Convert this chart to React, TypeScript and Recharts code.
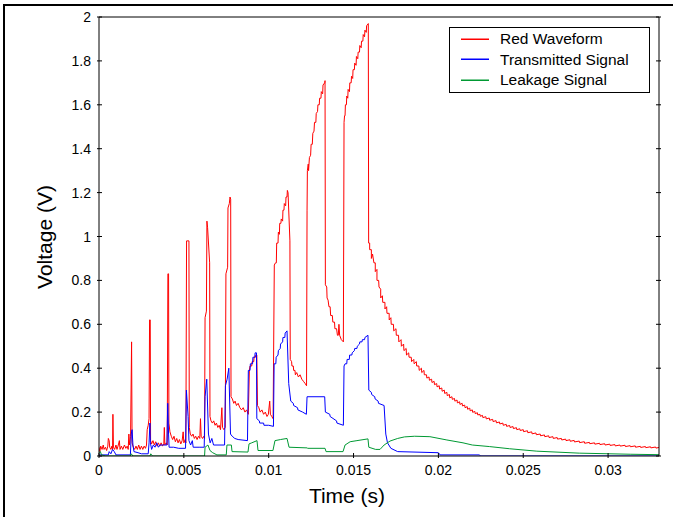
import { Label, Legend, Line, LineChart, XAxis, YAxis } from 'recharts'

const RED = '#ff0000'
const BLUE = '#0000ff'
const GREEN = '#009933'
const FONT = "'Liberation Sans', Arial, sans-serif"

// axis ticks (seconds / volts)
const xTicks = [0, 0.005, 0.01, 0.015, 0.02, 0.025, 0.03]
const yTicks = [0, 0.2, 0.4, 0.6, 0.8, 1, 1.2, 1.4, 1.6, 1.8, 2]

const seriesNames = ['Red Waveform', 'Transmitted Signal', 'Leakage Signal']
const seriesColors = [RED, BLUE, GREEN]

// [time in ms, voltage in V]
const redWaveform: [number, number][] = [
  [0, 0.04], [0.05, 0.02], [0.1, 0.045], [0.18, 0.03], [0.25, 0.05], [0.3, 0.03], [0.38, 0.04],
  [0.45, 0.025], [0.52, 0.045], [0.55, 0.08], [0.6, 0.07], [0.63, 0.04], [0.7, 0.03], [0.76, 0.045],
  [0.8, 0.03], [0.82, 0.19], [0.85, 0.04], [0.92, 0.03], [1.0, 0.05], [1.06, 0.03], [1.12, 0.045],
  [1.2, 0.07], [1.24, 0.03], [1.32, 0.045], [1.4, 0.03], [1.5, 0.05], [1.58, 0.035], [1.66, 0.045],
  [1.72, 0.03], [1.76, 0.1], [1.8, 0.05], [1.86, 0.09], [1.92, 0.52], [1.95, 0.06], [2.02, 0.04],
  [2.1, 0.03], [2.18, 0.045], [2.26, 0.03], [2.34, 0.05], [2.42, 0.03], [2.5, 0.045], [2.58, 0.03],
  [2.66, 0.045], [2.74, 0.035], [2.8, 0.05], [2.84, 0.12], [2.9, 0.14], [2.95, 0.17], [2.98, 0.62],
  [3.02, 0.62], [3.04, 0.07], [3.1, 0.055], [3.18, 0.07], [3.26, 0.05], [3.34, 0.065], [3.42, 0.045],
  [3.5, 0.06], [3.58, 0.045], [3.66, 0.06], [3.74, 0.045], [3.82, 0.055], [3.85, 0.13], [3.88, 0.05],
  [3.96, 0.06], [4.02, 0.05], [4.06, 0.83], [4.1, 0.83], [4.12, 0.15], [4.18, 0.11], [4.26, 0.09],
  [4.34, 0.075], [4.42, 0.09], [4.5, 0.065], [4.58, 0.08], [4.66, 0.06], [4.74, 0.075], [4.82, 0.055],
  [4.9, 0.07], [4.96, 0.11], [5.0, 0.06], [5.08, 0.075], [5.12, 0.06], [5.16, 0.98], [5.3, 0.98],
  [5.32, 0.13], [5.38, 0.1], [5.46, 0.09], [5.54, 0.1], [5.62, 0.08], [5.7, 0.09], [5.78, 0.075],
  [5.86, 0.09], [5.94, 0.08], [5.98, 0.17], [6.02, 0.09], [6.1, 0.08], [6.18, 0.09], [6.22, 0.08],
  [6.25, 0.63], [6.33, 0.66], [6.36, 1.07], [6.4, 1.04], [6.52, 0.88], [6.54, 0.18], [6.6, 0.16],
  [6.68, 0.15], [6.76, 0.16], [6.84, 0.14], [6.92, 0.15], [7.0, 0.13], [7.08, 0.14], [7.16, 0.12],
  [7.24, 0.22], [7.28, 0.13], [7.36, 0.12], [7.44, 0.13], [7.48, 0.83], [7.58, 0.86], [7.6, 1.13],
  [7.68, 1.15], [7.72, 1.18], [7.76, 1.17], [7.78, 0.27], [7.86, 0.26], [7.94, 0.24], [8.02, 0.25],
  [8.1, 0.23], [8.2, 0.24], [8.3, 0.22], [8.4, 0.21], [8.5, 0.22], [8.6, 0.2], [8.7, 0.21], [8.8, 0.19],
  [8.86, 0.39], [8.9, 0.41], [9.0, 0.41], [9.02, 0.43], [9.12, 0.43], [9.14, 0.45], [9.22, 0.45],
  [9.24, 0.46], [9.3, 0.46], [9.34, 0.23], [9.42, 0.22], [9.5, 0.2], [9.6, 0.21], [9.7, 0.19],
  [9.8, 0.2], [9.9, 0.18], [9.98, 0.19], [10.06, 0.25], [10.1, 0.19], [10.18, 0.18], [10.26, 0.17],
  [10.33, 0.87], [10.4, 0.88], [10.45, 0.88], [10.47, 0.97], [10.55, 0.97], [10.57, 1.02], [10.63, 1.01],
  [10.65, 1.06], [10.72, 1.06], [10.74, 1.08], [10.82, 1.07], [10.84, 1.12], [10.9, 1.12], [10.92, 1.15],
  [11.0, 1.14], [11.02, 1.18], [11.08, 1.18], [11.1, 1.21], [11.14, 1.2], [11.25, 0.98], [11.27, 0.44],
  [11.35, 0.43], [11.37, 0.41], [11.45, 0.41], [11.47, 0.39], [11.55, 0.39], [11.57, 0.37], [11.65, 0.38],
  [11.75, 0.36], [11.85, 0.37], [11.95, 0.35], [12.05, 0.34], [12.15, 0.33], [12.23, 0.32],
  [12.26, 1.12], [12.28, 1.3], [12.33, 1.33], [12.35, 1.3], [12.4, 1.36], [12.47, 1.37], [12.5, 1.42],
  [12.57, 1.42], [12.6, 1.47], [12.67, 1.48], [12.7, 1.52], [12.78, 1.52], [12.8, 1.56], [12.88, 1.57],
  [12.9, 1.6], [12.98, 1.6], [13.0, 1.63], [13.08, 1.63], [13.1, 1.66], [13.18, 1.65], [13.2, 1.69],
  [13.3, 1.7], [13.32, 1.71], [13.34, 0.78], [13.42, 0.77], [13.44, 0.72], [13.5, 0.71], [13.55, 0.68],
  [13.62, 0.68], [13.65, 0.64], [13.75, 0.64], [13.78, 0.61], [13.88, 0.61], [13.9, 0.58], [14.0, 0.58],
  [14.05, 0.55], [14.1, 0.55], [14.14, 0.6], [14.18, 0.55], [14.28, 0.53], [14.4, 0.52], [14.44, 1.52],
  [14.47, 1.55], [14.5, 1.55], [14.52, 1.6], [14.58, 1.6], [14.6, 1.64], [14.66, 1.63], [14.68, 1.67],
  [14.76, 1.66], [14.78, 1.7], [14.86, 1.7], [14.88, 1.73], [14.95, 1.72], [14.97, 1.76], [15.05, 1.76],
  [15.07, 1.79], [15.15, 1.78], [15.17, 1.82], [15.25, 1.81], [15.27, 1.84], [15.35, 1.84], [15.37, 1.87],
  [15.45, 1.86], [15.47, 1.89], [15.55, 1.89], [15.57, 1.92], [15.65, 1.91], [15.67, 1.94], [15.75, 1.93],
  [15.77, 1.96], [15.87, 1.97], [15.89, 0.97], [15.95, 0.97], [15.95, 0.94], [16.05, 0.94], [16.05, 0.9],
  [16.12, 0.92], [16.2, 0.88], [16.28, 0.88], [16.28, 0.84], [16.38, 0.85], [16.38, 0.8], [16.48, 0.8],
  [16.5, 0.77], [16.6, 0.76], [16.6, 0.72], [16.7, 0.73], [16.72, 0.7], [16.85, 0.7], [16.85, 0.67],
  [16.95, 0.68], [16.97, 0.65], [17.1, 0.65], [17.1, 0.62], [17.2, 0.63], [17.22, 0.6], [17.35, 0.6],
  [17.37, 0.57], [17.5, 0.58], [17.52, 0.55], [17.65, 0.55], [17.67, 0.52], [17.8, 0.53], [17.82, 0.5],
  [17.95, 0.51], [17.97, 0.48], [18.1, 0.49], [18.12, 0.46], [18.25, 0.47], [18.27, 0.45], [18.4, 0.45],
  [18.42, 0.43], [18.55, 0.44], [18.57, 0.42], [18.7, 0.43], [18.72, 0.41], [18.85, 0.41], [18.87, 0.39],
  [19.0, 0.4], [19.02, 0.38], [19.15, 0.39], [19.17, 0.37], [19.3, 0.37], [19.32, 0.355], [19.45, 0.36],
  [19.47, 0.345], [19.6, 0.35], [19.62, 0.335], [19.75, 0.34], [19.77, 0.325], [19.9, 0.33], [19.92, 0.315],
  [20.05, 0.32], [20.07, 0.305], [20.2, 0.31], [20.22, 0.295], [20.35, 0.3], [20.37, 0.285], [20.5, 0.29],
  [20.52, 0.275], [20.65, 0.28], [20.67, 0.265], [20.8, 0.27], [20.82, 0.258], [20.95, 0.262], [20.97, 0.25],
  [21.1, 0.255], [21.12, 0.242], [21.25, 0.247], [21.27, 0.235], [21.4, 0.24], [21.42, 0.228], [21.55, 0.232],
  [21.57, 0.22], [21.7, 0.225], [21.72, 0.213], [21.85, 0.218], [21.87, 0.206], [22.0, 0.21], [22.02, 0.199],
  [22.15, 0.203], [22.17, 0.193], [22.3, 0.197], [22.32, 0.187], [22.45, 0.19], [22.47, 0.181], [22.6, 0.185],
  [22.62, 0.175], [22.8, 0.179], [22.82, 0.169], [23.0, 0.173], [23.02, 0.163], [23.2, 0.167], [23.22, 0.157],
  [23.4, 0.161], [23.42, 0.151], [23.6, 0.155], [23.62, 0.146], [23.8, 0.15], [23.82, 0.14], [24.0, 0.144],
  [24.02, 0.135], [24.2, 0.139], [24.22, 0.13], [24.4, 0.134], [24.42, 0.125], [24.6, 0.129], [24.62, 0.12],
  [24.8, 0.124], [24.82, 0.116], [25.0, 0.12], [25.02, 0.111], [25.25, 0.115], [25.27, 0.106], [25.5, 0.11],
  [25.52, 0.101], [25.75, 0.105], [25.77, 0.097], [26.0, 0.1], [26.02, 0.092], [26.25, 0.096], [26.27, 0.088],
  [26.5, 0.092], [26.52, 0.084], [26.75, 0.088], [26.77, 0.08], [27.0, 0.084], [27.02, 0.077], [27.25, 0.08],
  [27.27, 0.073], [27.5, 0.077], [27.52, 0.07], [27.75, 0.074], [27.77, 0.067], [28.0, 0.071], [28.02, 0.064],
  [28.3, 0.068], [28.32, 0.061], [28.6, 0.065], [28.62, 0.058], [28.9, 0.062], [28.92, 0.056], [29.2, 0.06],
  [29.22, 0.054], [29.5, 0.058], [29.52, 0.052], [29.8, 0.056], [29.82, 0.05], [30.1, 0.054], [30.12, 0.048],
  [30.4, 0.052], [30.42, 0.046], [30.7, 0.05], [30.72, 0.045], [31.0, 0.049], [31.02, 0.043], [31.3, 0.047],
  [31.32, 0.042], [31.6, 0.046], [31.62, 0.04], [31.9, 0.044], [31.92, 0.039], [32.2, 0.043], [32.22, 0.038],
  [32.5, 0.042], [32.52, 0.037], [32.8, 0.041], [32.82, 0.036], [33, 0.039],
]

const transmittedSignal: [number, number][] = [
  [0, 0.005], [0.55, 0.005], [0.6, 0.02], [0.7, 0.01], [0.8, 0.03], [0.9, 0.02], [1.0, 0.005],
  [1.85, 0.005], [1.9, 0.1], [1.95, 0.12], [2.0, 0.05], [2.06, 0.02], [2.3, 0.015], [2.5, 0.01],
  [2.9, 0.01], [2.95, 0.06], [3.0, 0.15], [3.03, 0.06], [3.1, 0.03], [3.2, 0.05], [3.3, 0.04],
  [3.4, 0.06], [3.5, 0.04], [3.6, 0.05], [3.8, 0.05], [4.0, 0.05], [4.05, 0.24], [4.1, 0.1],
  [4.13, 0.04], [4.4, 0.04], [4.7, 0.035], [5.1, 0.035], [5.15, 0.3], [5.25, 0.18], [5.3, 0.07],
  [5.4, 0.05], [5.5, 0.07], [5.55, 0.04], [5.9, 0.04], [6.2, 0.04], [6.25, 0.27], [6.35, 0.35],
  [6.45, 0.1], [6.55, 0.06], [6.65, 0.08], [6.75, 0.05], [7.4, 0.05], [7.45, 0.32], [7.55, 0.35],
  [7.65, 0.4], [7.75, 0.1], [7.85, 0.09], [8.0, 0.08], [8.2, 0.075], [8.75, 0.07], [8.8, 0.39],
  [8.9, 0.39], [8.92, 0.42], [9.05, 0.42], [9.07, 0.45], [9.18, 0.45], [9.2, 0.47], [9.28, 0.47],
  [9.3, 0.17], [9.45, 0.16], [9.47, 0.15], [9.7, 0.15], [9.72, 0.14], [10.0, 0.14], [10.28, 0.135],
  [10.32, 0.42], [10.42, 0.42], [10.44, 0.45], [10.55, 0.46], [10.57, 0.48], [10.68, 0.49], [10.7, 0.51],
  [10.82, 0.52], [10.84, 0.54], [10.95, 0.54], [10.97, 0.56], [11.08, 0.57], [11.18, 0.33], [11.3, 0.25],
  [11.45, 0.24], [11.47, 0.23], [11.7, 0.22], [11.72, 0.21], [12.0, 0.2], [12.22, 0.19], [12.26, 0.27],
  [13.3, 0.27], [13.34, 0.2], [13.6, 0.19], [13.62, 0.18], [14.0, 0.16], [14.02, 0.15], [14.4, 0.14],
  [14.44, 0.41], [14.5, 0.42], [14.6, 0.42], [14.62, 0.44], [14.75, 0.44], [14.77, 0.46], [14.9, 0.46],
  [14.92, 0.47], [15.05, 0.48], [15.07, 0.49], [15.2, 0.49], [15.22, 0.5], [15.35, 0.51], [15.37, 0.52],
  [15.5, 0.52], [15.52, 0.53], [15.65, 0.53], [15.67, 0.54], [15.85, 0.55], [15.9, 0.3], [16.05, 0.29],
  [16.07, 0.28], [16.25, 0.27], [16.27, 0.26], [16.45, 0.25], [16.47, 0.24], [16.8, 0.23], [16.9, 0.1],
  [17.0, 0.06], [17.2, 0.035], [17.6, 0.02], [20.0, 0.015], [20.1, 0.005], [22.4, 0.005], [22.5, 0],
  [33, 0],
]

const leakageSignal: [number, number][] = [
  [0, 0.015], [0.08, 0.02], [0.15, 0.005], [0.4, 0], [1.85, 0], [1.9, 0.01], [2.0, 0], [3.0, 0],
  [3.05, 0.01], [3.15, 0], [6.22, 0], [6.25, 0.04], [6.42, 0.05], [6.54, 0.025], [6.7, 0.015],
  [6.95, 0.005], [7.5, 0.005], [7.54, 0.05], [7.8, 0.05], [7.84, 0.02], [8.78, 0.018], [8.84, 0.055],
  [9.0, 0.06], [9.31, 0.07], [9.37, 0.025], [10.25, 0.025], [10.37, 0.07], [10.7, 0.075], [11.08, 0.08],
  [11.2, 0.04], [12.26, 0.037], [12.3, 0.035], [13.32, 0.035], [13.38, 0.02], [14.38, 0.02], [14.5, 0.05],
  [14.8, 0.065], [15.2, 0.07], [15.85, 0.078], [15.9, 0.04], [16.3, 0.03], [16.56, 0.03], [16.8, 0.05],
  [17.15, 0.068], [17.6, 0.08], [18.0, 0.087], [18.6, 0.09], [19.5, 0.088], [20.5, 0.073], [21.45, 0.06],
  [22.0, 0.05], [23.0, 0.043], [24.2, 0.033], [25.8, 0.022], [28.3, 0.013], [31.3, 0.008], [33, 0.006],
]

const toRows = (pts: [number, number][]) => pts.map(([ms, v]) => ({ t: ms / 1000, v }))

const TICK = 5

function BottomTick({ x, y, payload }: any) {
  return (
    <g>
      <line x1={x} x2={x} y1={y} y2={y - TICK} stroke='#000' />
      <text x={x} y={y + 17} textAnchor='middle' fontSize={14} fontFamily={FONT} fill='#000'>
        {String(payload.value)}
      </text>
    </g>
  )
}

function LeftTick({ x, y, payload }: any) {
  return (
    <g>
      <line x1={x} x2={x + TICK} y1={y} y2={y} stroke='#000' />
      <text x={x - 6} y={y + 5} textAnchor='end' fontSize={14} fontFamily={FONT} fill='#000'>
        {String(payload.value)}
      </text>
    </g>
  )
}

function TopTick({ x, y }: any) {
  return <line x1={x} x2={x} y1={y} y2={y + TICK} stroke='#000' />
}

function RightTick({ x, y }: any) {
  return <line x1={x} x2={x - TICK} y1={y} y2={y} stroke='#000' />
}

function LegendBox() {
  return (
    <svg width={201} height={66} style={{ display: 'block' }}>
      <rect x={0.5} y={0.5} width={200} height={65} fill='#fff' stroke='#000' />
      {seriesNames.map((name, i) => {
        const cy = 11.5 + i * 20.5
        return (
          <g key={name}>
            <rect x={12} y={Math.round(cy) - 0.5} width={28} height={1.5} fill={seriesColors[i]} />
            <text x={51} y={cy + 5.5} fontSize={15.5} fontFamily={FONT} fill='#000'>
              {name}
            </text>
          </g>
        )
      })}
    </svg>
  )
}

export default function App() {
  const seriesData = [redWaveform, transmittedSignal, leakageSignal]
  return (
    <div
      style={{
        position: 'absolute',
        left: 0,
        top: 0,
        width: 673,
        height: 517,
        overflow: 'hidden',
        background: '#fff',
      }}
    >
      <div
        style={{
          position: 'absolute',
          left: 3,
          top: 4,
          width: 670,
          height: 513,
          boxSizing: 'border-box',
          borderTop: '2px solid #000',
          borderLeft: '2px solid #000',
        }}
      />
      <LineChart width={673} height={517} margin={{ top: 0, right: 0, bottom: 0, left: 0 }}>
        <XAxis
          dataKey='t'
          type='number'
          domain={[0, 0.033]}
          allowDataOverflow
          ticks={xTicks}
          interval={0}
          height={61}
          tickSize={0}
          tickLine={false}
          tick={BottomTick}
          axisLine={{ stroke: '#000' }}
        >
          <Label
            value='Time (s)'
            content={() => (
              <text x={347} y={503} textAnchor='middle' fontSize={21} fontFamily={FONT} fill='#000'>
                Time (s)
              </text>
            )}
          />
        </XAxis>
        <XAxis
          xAxisId='top'
          orientation='top'
          type='number'
          domain={[0, 0.033]}
          allowDataOverflow
          ticks={xTicks}
          interval={0}
          height={17}
          tickSize={0}
          tickLine={false}
          tick={TopTick}
          axisLine={{ stroke: '#000' }}
        />
        <YAxis
          type='number'
          domain={[0, 2]}
          allowDataOverflow
          ticks={yTicks}
          interval={0}
          width={99}
          tickSize={0}
          tickLine={false}
          tick={LeftTick}
          axisLine={{ stroke: '#000' }}
        >
          <Label
            value='Voltage (V)'
            content={() => (
              <text
                x={52}
                y={237}
                transform='rotate(-90 52 237)'
                textAnchor='middle'
                fontSize={21}
                fontFamily={FONT}
                fill='#000'
              >
                Voltage (V)
              </text>
            )}
          />
        </YAxis>
        <YAxis
          yAxisId='right'
          orientation='right'
          type='number'
          domain={[0, 2]}
          allowDataOverflow
          ticks={yTicks}
          interval={0}
          width={14}
          tickSize={0}
          tickLine={false}
          tick={RightTick}
          axisLine={{ stroke: '#000' }}
        />
        <Legend
          layout='vertical'
          align='center'
          verticalAlign='middle'
          content={<LegendBox />}
          wrapperStyle={{ left: 449, top: 27, width: 201, height: 66 }}
        />
        {seriesData.map((pts, i) => (
          <Line
            key={seriesNames[i]}
            data={toRows(pts)}
            dataKey='v'
            name={seriesNames[i]}
            type='linear'
            stroke={seriesColors[i]}
            strokeWidth={1}
            dot={false}
            isAnimationActive={false}
          />
        ))}
      </LineChart>
    </div>
  )
}
